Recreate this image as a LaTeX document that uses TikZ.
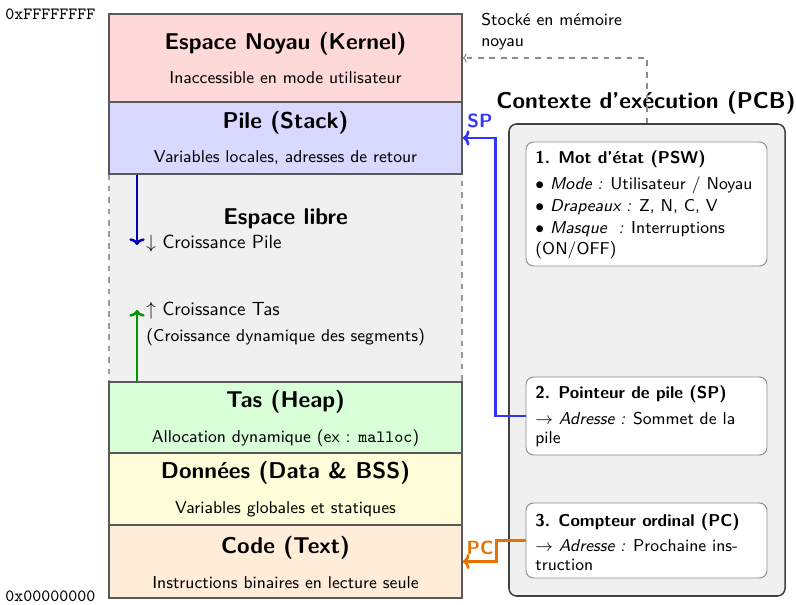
\documentclass[tikz,border=0pt]{standalone}
\usetikzlibrary{fit,arrows.meta}
\renewcommand{\familydefault}{\sfdefault}
\definecolor{pcorange}{RGB}{230,115,0}
\definecolor{spblue}{RGB}{51,51,255}
\definecolor{darkblue}{RGB}{0,0,180}
\definecolor{darkgreen}{RGB}{0,150,0}
\begin{document}
\begin{tikzpicture}[x=0.525pt,y=-0.525pt,
  membox/.style={draw=black!65, line width=0.9pt, inner sep=0pt},
  freebox/.style={draw=black!40, dashed, fill=black!6, line width=0.6pt, inner sep=0pt},
  mtitle/.style={font=\large\bfseries},
  msub/.style={font=\small},
  pcbbox/.style={draw=black!75, fill=black!6, rounded corners=4pt, line width=0.8pt, inner sep=0pt},
  regbox/.style={draw=black!45, fill=white, rounded corners=4pt, line width=0.5pt, inner sep=0pt},
  rtext/.style={anchor=base west, font=\small, inner sep=0pt},
  hexlbl/.style={font=\small\ttfamily, anchor=west, inner sep=0pt},
  growarrow/.style={line width=1.3pt, -{To[length=3.5pt,width=8pt]}},
  ptrarrow/.style={line width=1.4pt, -{To[length=3.5pt,width=8pt]}},
]
\useasboundingbox (0,0) rectangle (796,605);

% free space
\node[freebox, fit={(109,174) (462,382)}] (free) {};
% memory segments
\node[membox, fill=red!15, fit={(109,14) (462,102)}] (kernel) {};
\node[membox, fill=blue!15, fit={(109,102) (462,174)}] (stack) {};
\node[membox, fill=green!15, fit={(109,382) (462,453)}] (heap) {};
\node[membox, fill=yellow!15, fit={(109,453) (462,525)}] (data) {};
\node[membox, fill=orange!15, fit={(109,525) (462,598)}] (code) {};

\node[mtitle] (kt) at (285.5,44) {Espace Noyau (Kernel)};
\node[msub] (ks) at (285.5,78) {Inaccessible en mode utilisateur};
\node[mtitle] (st) at (285.5,123) {Pile (Stack)};
\node[msub] (ss) at (285.5,158) {Variables locales, adresses de retour};
\node[mtitle] (ft) at (285.5,219) {Espace libre};
\node[anchor=west, inner sep=0pt] (fp) at (146,244) {$\downarrow$ Croissance Pile};
\node[anchor=west, inner sep=0pt] (fh) at (146,311) {$\uparrow$ Croissance Tas};
\node[anchor=west, inner sep=0pt, font=\small] (fd) at (146,337) {(Croissance dynamique des segments)};
\node[mtitle] (ht) at (285.5,402) {Tas (Heap)};
\node[msub] (hs) at (285.5,438) {Allocation dynamique (ex : \texttt{malloc})};
\node[mtitle] (dt) at (285.5,473) {Données (Data \& BSS)};
\node[msub] (ds) at (285.5,509) {Variables globales et statiques};
\node[mtitle] (ct) at (285.5,548) {Code (Text)};
\node[msub] (cs) at (285.5,583) {Instructions binaires en lecture seule};

\node[hexlbl] (hexhi) at (5,14) {0xFFFFFFFF};
\node[hexlbl] (hexlo) at (5,596) {0x00000000};

% growth arrows
\coordinate (btip) at (137,245);
\coordinate (gtip) at (137,310);
\draw[growarrow, darkblue] (stack.south -| btip) -- (btip);
\draw[growarrow, darkgreen] (heap.north -| gtip) -- (gtip);

% PCB
\node[font=\large\bfseries] (pcbt) at (646,103) {Contexte d'exécution (PCB)};
\node[pcbbox, fit={(509,124) (785,596)}] (pcb) {};
\node[regbox, fit={(526,142) (767,266)}] (psw) {};
\node[regbox, fit={(526,377) (767,455)}] (spr) {};
\node[regbox, fit={(526,503) (767,578)}] (pcr) {};

\node[rtext, font=\small\bfseries] (psw1) at (535,164) {1. Mot d'état (PSW)};
\node[rtext] (psw2) at (535,190) {$\bullet$ \textit{Mode :} Utilisateur / Noyau};
\node[rtext] (psw3) at (535,212) {$\bullet$ \textit{Drapeaux :} Z, N, C, V};
\node[rtext] (psw4) at (535,234) {$\bullet$ \textit{Masque\ \ :} Interruptions};
\node[rtext] (psw5) at (535,255) {(ON/OFF)};

\node[rtext, font=\small\bfseries] (sp1) at (535,399) {2. Pointeur de pile (SP)};
\node[rtext] (sp2) at (535,424) {$\rightarrow$ \textit{Adresse :} Sommet de la};
\node[rtext] (sp3) at (535,444) {pile};

\node[rtext, font=\small\bfseries] (pc1) at (535,526) {3. Compteur ordinal (PC)};
\node[rtext] (pc2) at (535,551) {$\rightarrow$ \textit{Adresse :} Prochaine ins-};
\node[rtext] (pc3) at (535,570) {truction};

% kernel storage link
\node[anchor=north west, align=left, font=\small, inner sep=0pt] (stk) at (481,13) {Stocké en mémoire\\noyau};
\draw[black!45, dashed, line width=0.6pt, -{To[length=2pt,width=5pt]}] (pcb.north) |- (kernel.east);

% pointers
\draw[ptrarrow, spblue] (spr.west) -- ++(-30,0) |- (stack.east);
\node[font=\bfseries, text=spblue] (splbl) at (480,121) {SP};
\draw[ptrarrow, pcorange] (pcr.west) -- ++(-29,0) |- (code.east);
\node[font=\bfseries, text=pcorange] (pclbl) at (480,548) {PC};
\end{tikzpicture}
\end{document}
